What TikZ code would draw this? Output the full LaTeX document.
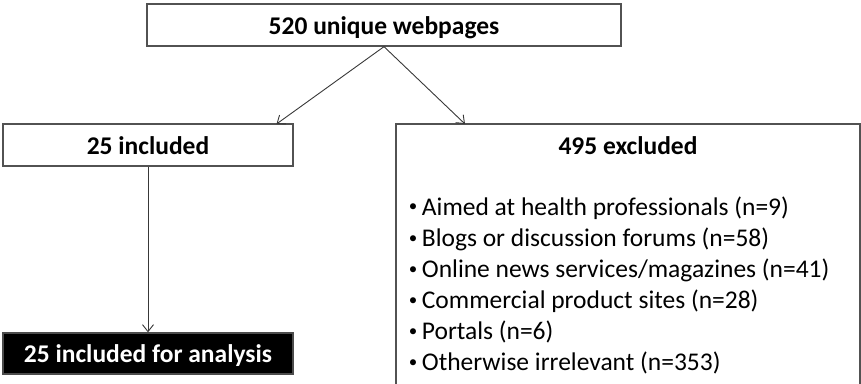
\documentclass[tikz,border=0pt]{standalone}
\usepackage{fontspec}
\setmainfont{Carlito}
\usetikzlibrary{arrows.meta}

% small raised bullet for the exclusion list
\newcommand{\listdot}{\makebox[17.4pt][c]{\raisebox{3.4pt}{\fontsize{17pt}{17pt}\selectfont •}}}

\tikzset{
  box/.style={draw=black!68, line width=1.3pt, fill=white, inner sep=0pt,
              text height=18pt, text depth=0pt,
              font=\fontsize{25.5pt}{30pt}\selectfont\bfseries},
  darkbox/.style={box, fill=black, draw=black!70, text=white},
  arr/.style={draw=black!78, line width=0.9pt,
              -{Straight Barb[length=7pt,width=11pt,line width=0.9pt]}},
  item/.style={anchor=base west, inner sep=0pt,
               font=\fontsize{25.5pt}{30pt}\selectfont},
  title/.style={anchor=base, inner sep=0pt,
                font=\fontsize{25.5pt}{30pt}\selectfont\bfseries}
}

\begin{document}
\begin{tikzpicture}[x=1pt, y=-1pt]
  \useasboundingbox (0,0) rectangle (861,383);
  \clip (0,0) rectangle (861,383);

  % boxes of the flow
  \node[box, minimum width=474pt, minimum height=42pt] (all) at (384,25) {520 unique webpages};
  \node[box, minimum width=290pt, minimum height=42pt] (inc) at (148,145) {25 included};
  \node[darkbox, minimum width=290pt, minimum height=41pt] (ana) at (148,353.5) {25 included for analysis};
  \node[draw=black!68, line width=1.3pt, minimum width=464pt, minimum height=280pt,
        inner sep=0pt] (exc) at (628,264) {};

  % contents of the exclusion box
  \node[title] (exct) at (628,154) {495 excluded};
  \foreach \y/\t [count=\i] in {
      215/{Aimed at health professionals (n=9)},
      246.5/{Blogs or discussion forums (n=58)},
      277.5/{Online news services/magazines (n=41)},
      308.5/{Commercial product sites (n=28)},
      339.5/{Portals (n=6)},
      370.5/{Otherwise irrelevant (n=353)}}
    \node[item] (r\i) at (404.3,\y) {\listdot\t};

  % connectors
  \coordinate (incEnd) at (276.5,124);
  \coordinate (excEnd) at (465,124);
  \draw[arr] (all.south) -- (incEnd);
  \draw[arr] (all.south) -- (excEnd);
  \draw[arr] (inc.south) -- (ana.north);
\end{tikzpicture}
\end{document}
